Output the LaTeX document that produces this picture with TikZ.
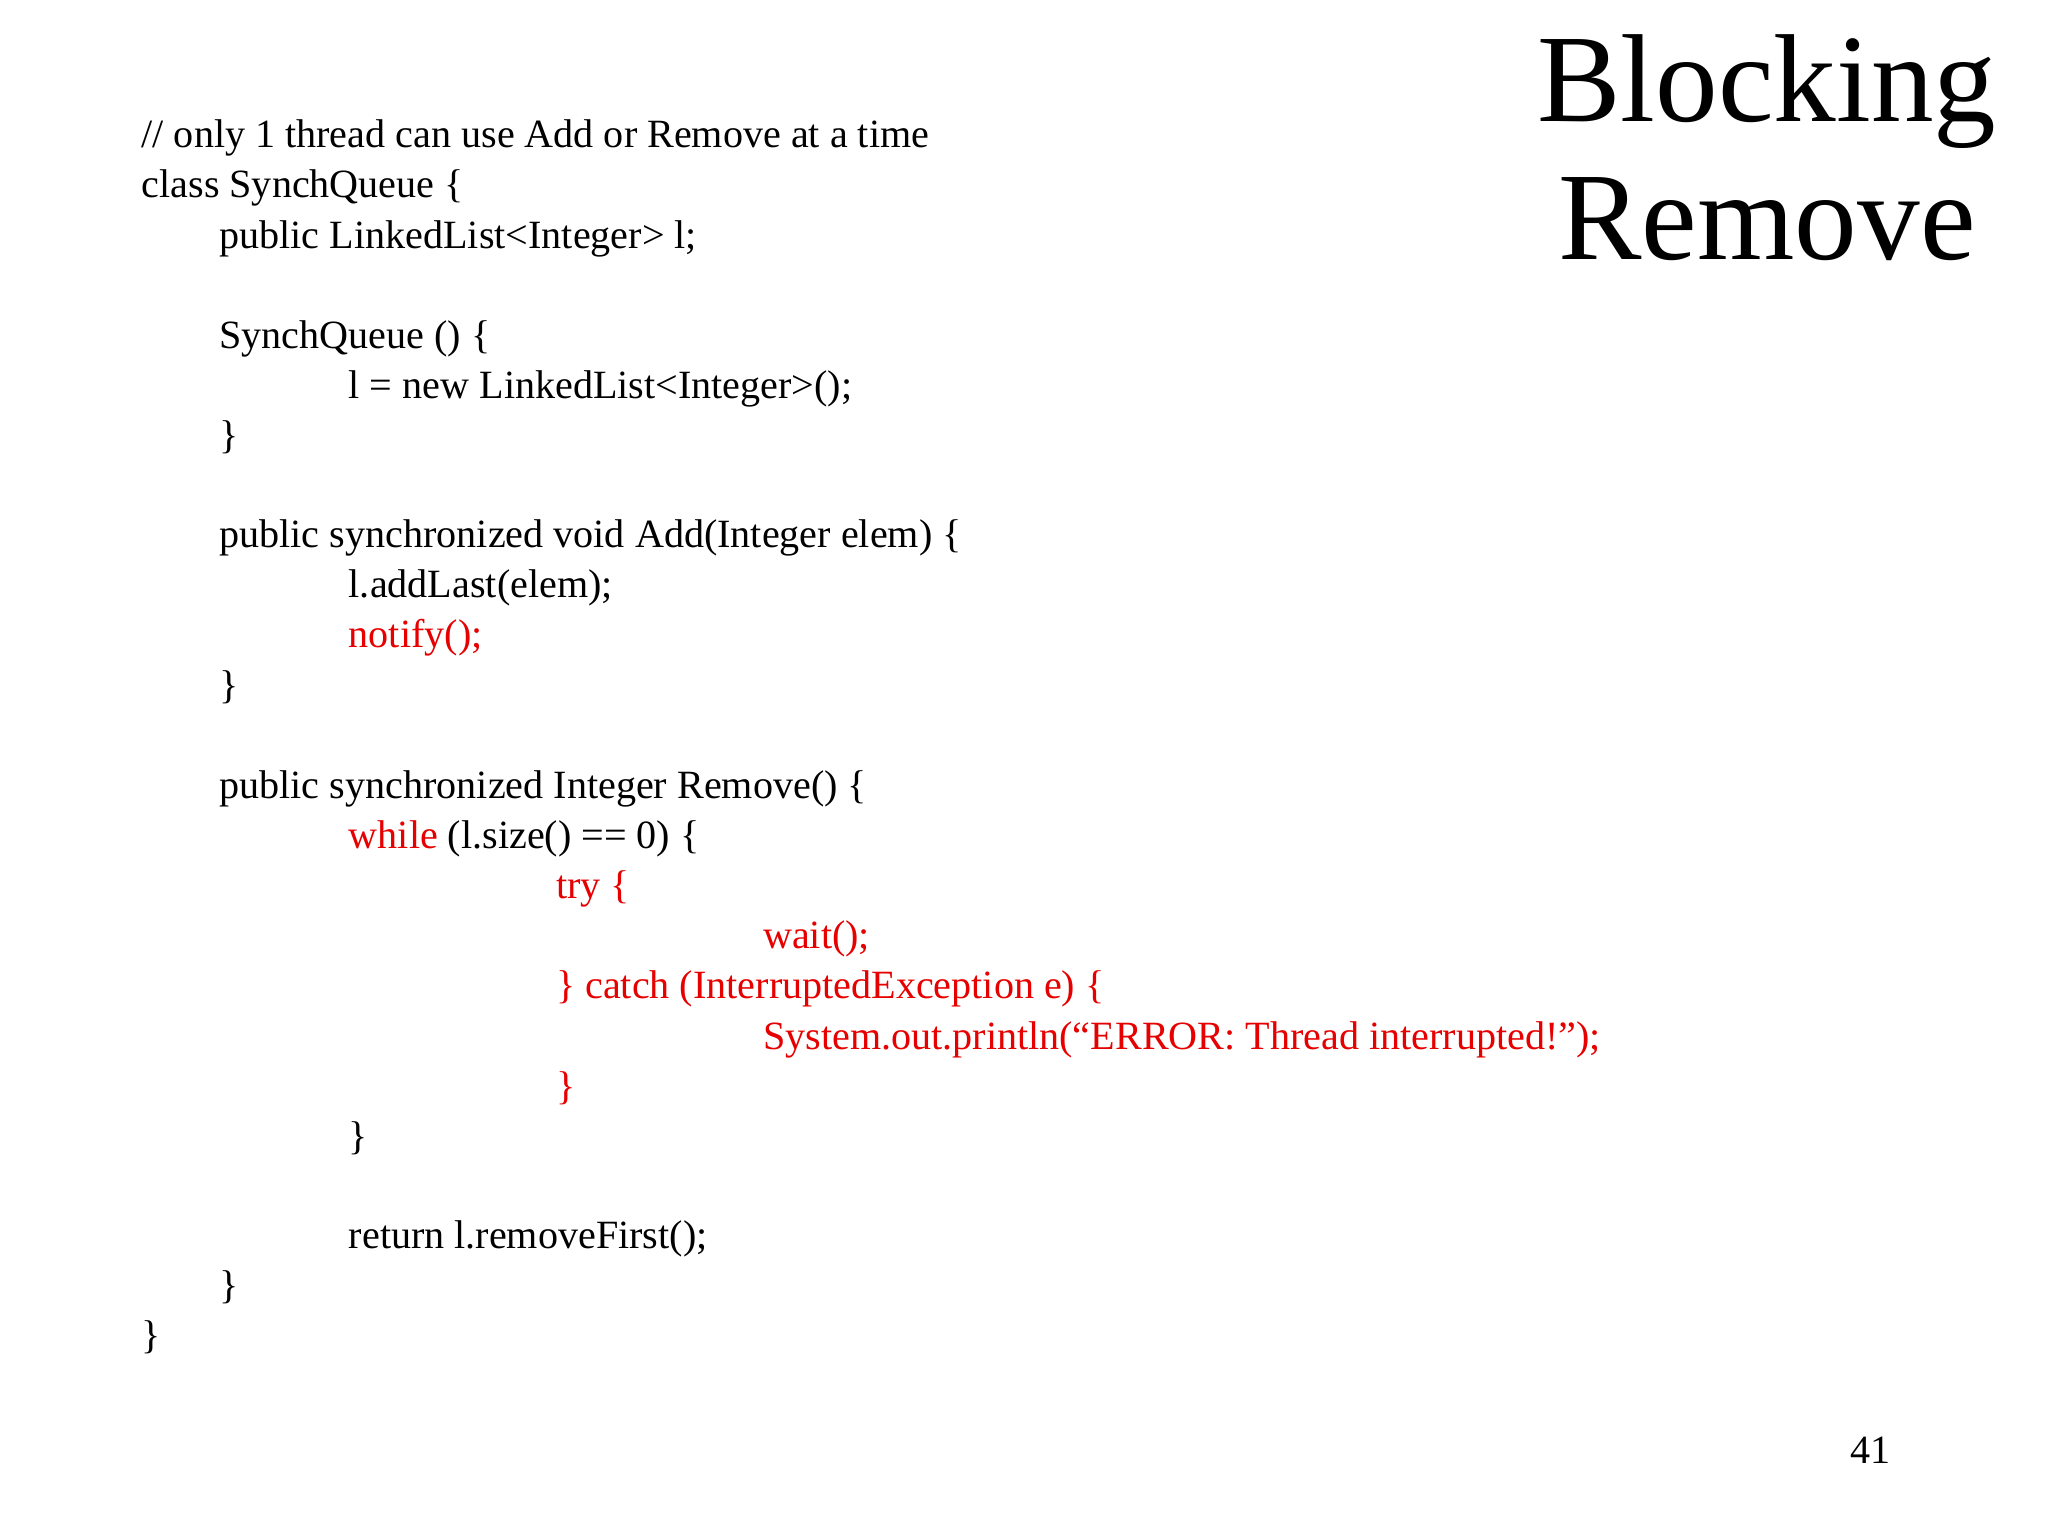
\documentclass[tikz,border=0pt]{standalone}
\usepackage{fontspec}
\setmainfont{Liberation Serif}
\begin{document}
\begin{tikzpicture}[x=0.02cm,y=-0.02cm,
  code/.style={anchor=base west,inner sep=0pt,font=\fontsize{17.3}{20}\selectfont},
  red/.style={text={rgb,255:red,230;green,0;blue,0}},
  title/.style={anchor=base,inner sep=0pt,font=\fontsize{54}{60}\selectfont}]
\useasboundingbox (0,0) rectangle (1552,1164);
\node[title] (t1) at (1339,92) {Blocking};
\node[title] (t2) at (1339,197) {Remove};
\node[code] (l1) at (107,112) {// only 1 thread can use Add or Remove at a time};
\node[code] (l2) at (107,150) {class SynchQueue \{};
\node[code] (l3) at (166,188) {public LinkedList<Integer> l;};
\node[code] (l4) at (166,264) {SynchQueue () \{};
\node[code] (l5) at (264,302) {l = new LinkedList<Integer>();};
\node[code] (l6) at (166,340) {\}};
\node[code] (l7) at (166,415) {public synchronized void Add(Integer elem) \{};
\node[code] (l8) at (264,453) {l.addLast(elem);};
\node[code,red] (l9) at (264,491) {notify();};
\node[code] (l10) at (166,529) {\}};
\node[code] (l11) at (166,605) {public synchronized Integer Remove() \{};
\node[code] (l12) at (264,643) {\textcolor[RGB]{230,0,0}{while} (l.size() == 0) \{};
\node[code,red] (l13) at (421,681) {try \{};
\node[code,red] (l14) at (578,719) {wait();};
\node[code,red] (l15) at (421,757) {\} catch (InterruptedException e) \{};
\node[code,red] (l16) at (578,795) {System.out.println(“ERROR: Thread interrupted!”);};
\node[code,red] (l17) at (421,833) {\}};
\node[code] (l18) at (264,871) {\}};
\node[code] (l19) at (264,946) {return l.removeFirst();};
\node[code] (l20) at (166,984) {\}};
\node[code] (l21) at (107,1022) {\}};
\node[code,anchor=base east] (pg) at (1433,1109) {41};
\end{tikzpicture}
\end{document}
